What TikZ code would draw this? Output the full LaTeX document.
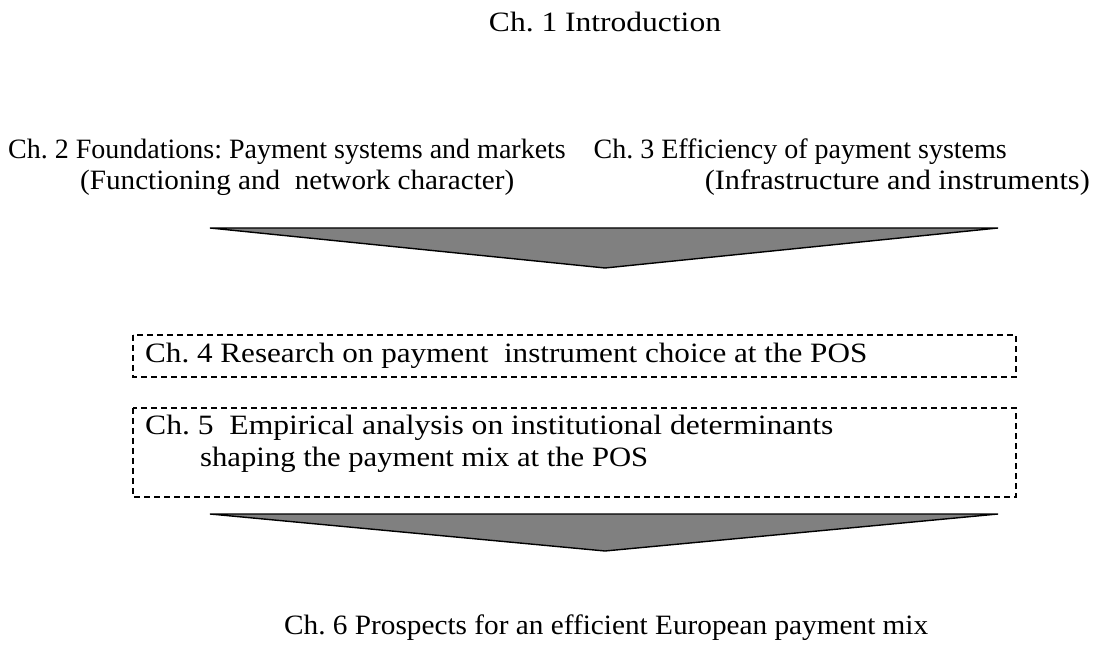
\documentclass[tikz,border=0pt]{standalone}
\usepackage{fontspec}
\usepackage{graphicx}
\setmainfont{Liberation Serif}
\frenchspacing
% set a line of text to a given width, keeping its height
\newcommand{\linewd}[2]{\resizebox{#1pt}{\height}{#2}}
\begin{document}
\begin{tikzpicture}[x=1pt,y=-1pt,
  txt/.style={inner sep=0pt,anchor=west,font=\fontsize{28}{32}\selectfont},
  chapbox/.style={draw,line width=1.2pt,dash pattern=on 6pt off 4pt},
  funnel/.style={draw,line width=1.4pt,fill=black!50,line join=miter}]
\useasboundingbox (0,0) rectangle (1096,668);

% chapter titles
\node[txt,anchor=center] (c1) at (605,22) {\linewd{232}{Ch. 1 Introduction}};
\node[txt] (c2a) at (8,152) {Ch. 2 Foundations: Payment systems and markets};
\node[txt] (c2b) at (80,183) {\linewd{434}{(Functioning and\ \ network character)}};
\node[txt,anchor=east] (c3a) at (1007,152) {Ch. 3 Efficiency of payment systems};
\node[txt,anchor=east] (c3b) at (1090,183) {\linewd{385}{(Infrastructure and instruments)}};

% first funnel
\coordinate (f1l) at (210,228);
\coordinate (f1r) at (998,228);
\coordinate (f1t) at (605,268);
\draw[funnel] (f1l) -- (f1r) -- (f1t) -- cycle;

% dashed chapter boxes
\draw[chapbox] (133,335) rectangle (1016,377);
\node[txt] (c4) at (145,356) {\linewd{722}{Ch. 4 Research on payment\ \ instrument choice at the POS}};
\draw[chapbox] (133,408) rectangle (1016,497);
\node[txt] (c5a) at (145,428) {\linewd{688}{Ch. 5\ \ Empirical analysis on institutional determinants}};
\node[txt] (c5b) at (200,460) {\linewd{448}{shaping the payment mix at the POS}};

% second funnel
\coordinate (f2l) at (210,514);
\coordinate (f2r) at (998,514);
\coordinate (f2t) at (605,551);
\draw[funnel] (f2l) -- (f2r) -- (f2t) -- cycle;

\node[txt] (c6) at (284,628) {\linewd{644}{Ch. 6 Prospects for an efficient European payment mix}};
\end{tikzpicture}
\end{document}
